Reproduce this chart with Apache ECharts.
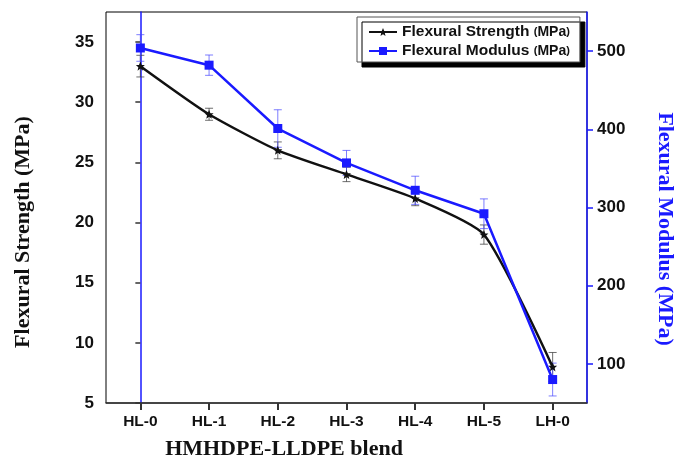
<!DOCTYPE html>
<html>
<head>
<meta charset="utf-8">
<script src="https://cdn.jsdelivr.net/npm/echarts@6/dist/echarts.min.js"></script>
<style>html,body{margin:0;padding:0;background:#fff;}#c{width:677px;height:459px;}</style>
</head>
<body>
<div id="c"></div>
<script>
var categories = ['HL-0', 'HL-1', 'HL-2', 'HL-3', 'HL-4', 'HL-5', 'LH-0'];
var strength = [33.0, 29.0, 26.0, 24.0, 22.0, 19.0, 8.0];
var strengthErr = [0.9, 0.5, 0.7, 0.6, 0.6, 0.8, 1.2];
var modulus = [504, 482, 401, 357, 322, 292, 80];
var modulusErr = [17, 13, 24, 16, 18, 19, 21];
var leftTicks = [5, 10, 15, 20, 25, 30, 35];
var rightTicks = [100, 200, 300, 400, 500];

var BLUE = '#1a1aff';
var chart = echarts.init(document.getElementById('c'), null, {renderer: 'canvas'});

function errData(vals, errs) {
  return vals.map(function (v, i) { return [i, v - errs[i], v + errs[i]]; });
}
function errRender(color) {
  return function (params, api) {
    var x = api.value(0);
    var lo = api.coord([x, api.value(1)]);
    var hi = api.coord([x, api.value(2)]);
    var hw = 4;
    var st = {stroke: color, lineWidth: 1};
    return {
      type: 'group',
      children: [
        {type: 'line', shape: {x1: lo[0], y1: lo[1], x2: hi[0], y2: hi[1]}, style: st},
        {type: 'line', shape: {x1: lo[0] - hw, y1: lo[1], x2: lo[0] + hw, y2: lo[1]}, style: st},
        {type: 'line', shape: {x1: hi[0] - hw, y1: hi[1], x2: hi[0] + hw, y2: hi[1]}, style: st}
      ]
    };
  };
}

var SANS = 'Liberation Sans, Arial, sans-serif';
var NARROW = '"Liberation Sans Narrow", "Arial Narrow", Liberation Sans, Arial, sans-serif';
var SERIF = '"Liberation Serif", "Times New Roman", serif';
var yLabelFont = {color: '#111', fontFamily: SANS, fontWeight: 'bold', fontSize: 17};
var xLabelFont = {color: '#111', fontFamily: NARROW, fontWeight: 'bold', fontSize: 15.5};
var xTickPos = categories.map(function (c, i) { return i; });

var option = {
  animation: false,
  backgroundColor: '#fff',
  grid: {left: 106, right: 90, top: 12, bottom: 56, show: true, borderColor: '#000', borderWidth: 1},
  legend: {
    orient: 'vertical',
    left: 357, top: 17,
    padding: [7, 10, 3, 11],
    itemGap: 3,
    itemWidth: 28, itemHeight: 10,
    backgroundColor: '#fff',
    borderColor: '#555', borderWidth: 1,
    shadowColor: '#000', shadowBlur: 0, shadowOffsetX: 5, shadowOffsetY: 5,
    data: ['Flexural Strength', 'Flexural Modulus'],
    formatter: function (n) { return '{a|' + n + ' }{p|(}{b|MPa}{p|)}'; },
    textStyle: {
      rich: {
        a: {fontFamily: SANS, fontWeight: 'bold', fontSize: 15.5, color: '#111'},
        b: {fontFamily: SANS, fontWeight: 'bold', fontSize: 14, color: '#111'},
        p: {fontFamily: SANS, fontWeight: 'bold', fontSize: 11, color: '#111'}
      }
    }
  },
  xAxis: [
    {
      type: 'category',
      data: categories,
      boundaryGap: true,
      axisLine: {show: true, lineStyle: {color: '#333', width: 1.5}},
      axisTick: {show: false},
      axisLabel: Object.assign({show: true, interval: 0, margin: 11}, xLabelFont),
      splitLine: {show: false}
    },
    {
      type: 'value', min: -0.5, max: 6.5, position: 'bottom',
      axisLine: {show: false},
      axisTick: {show: true, length: 7, customValues: xTickPos, lineStyle: {color: '#333', width: 2}},
      axisLabel: {show: false},
      splitLine: {show: false}
    }
  ],
  yAxis: [
    {
      type: 'value', min: 5, max: 37.5,
      axisLine: {show: true, lineStyle: {color: BLUE, width: 1.5}},
      axisTick: {show: true, length: 5, customValues: leftTicks, lineStyle: {color: '#333', width: 1.5}},
      axisLabel: Object.assign({margin: 12, customValues: leftTicks}, yLabelFont),
      splitLine: {show: false}
    },
    {
      type: 'value', min: 50, max: 550, position: 'right',
      axisLine: {show: true, lineStyle: {color: BLUE, width: 1.5}},
      axisTick: {show: true, length: 6, customValues: rightTicks, lineStyle: {color: BLUE, width: 1.5}},
      axisLabel: Object.assign({margin: 10, customValues: rightTicks}, yLabelFont),
      splitLine: {show: false}
    }
  ],
  graphic: [
    {type: 'text', x: 23, y: 232, rotation: Math.PI / 2,
      style: {text: 'Flexural Strength (MPa)', font: 'bold 22px ' + SERIF, fill: '#111', align: 'center', verticalAlign: 'middle'}},
    {type: 'text', x: 665, y: 229, rotation: -Math.PI / 2,
      style: {text: 'Flexural Modulus (MPa)', font: 'bold 22px ' + SERIF, fill: BLUE, align: 'center', verticalAlign: 'middle'}},
    {type: 'text', x: 284, y: 449,
      style: {text: 'HMHDPE-LLDPE blend', font: 'bold 22px ' + SERIF, fill: '#111', align: 'center', verticalAlign: 'middle'}}
  ],
  series: [
    {
      name: 'Flexural Strength err', type: 'custom', xAxisIndex: 0, yAxisIndex: 0,
      renderItem: errRender('rgba(60,60,60,0.75)'),
      data: errData(strength, strengthErr), z: 1, silent: true
    },
    {
      name: 'Flexural Modulus err', type: 'custom', xAxisIndex: 0, yAxisIndex: 1,
      renderItem: errRender('rgba(70,70,255,0.7)'),
      data: errData(modulus, modulusErr), z: 1, silent: true
    },
    {
      name: 'Flexural Strength', type: 'line', xAxisIndex: 0, yAxisIndex: 0,
      data: strength, smooth: 0.2,
      symbol: 'path://M0,-10 L2.9,-3.1 L9.5,-3.1 L4.3,1.3 L5.9,8.1 L0,4 L-5.9,8.1 L-4.3,1.3 L-9.5,-3.1 L-2.9,-3.1 Z',
      symbolSize: 9,
      lineStyle: {color: '#111', width: 2.5},
      itemStyle: {color: '#111'}, z: 3
    },
    {
      name: 'Flexural Modulus', type: 'line', xAxisIndex: 0, yAxisIndex: 1,
      data: modulus,
      symbol: 'rect', symbolSize: 9,
      lineStyle: {color: BLUE, width: 2.5},
      itemStyle: {color: BLUE}, z: 4
    }
  ]
};
chart.setOption(option);
</script>
</body>
</html>
